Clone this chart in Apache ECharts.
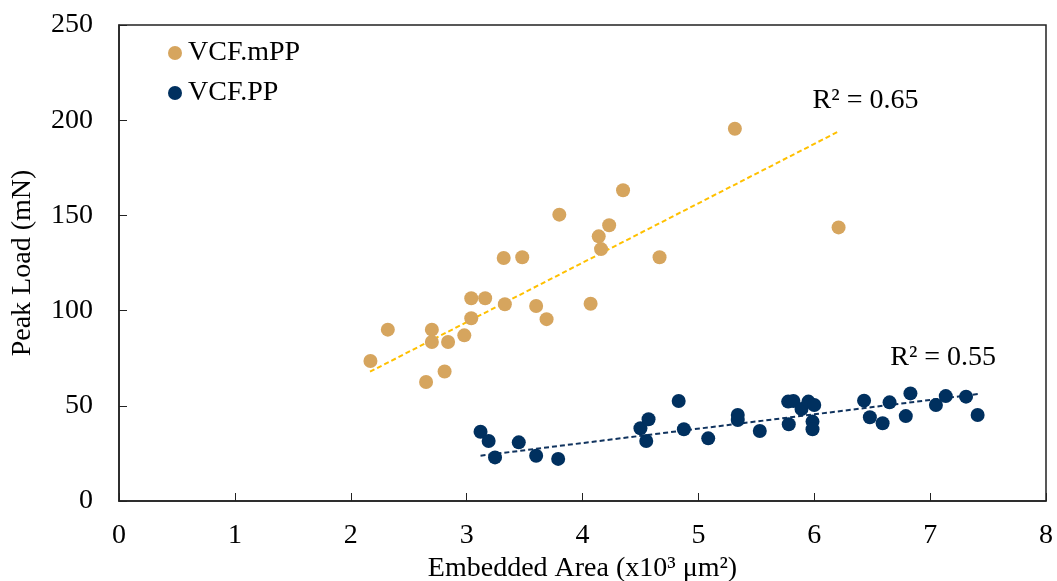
<!DOCTYPE html>
<html><head><meta charset="utf-8">
<script src="https://cdn.jsdelivr.net/npm/echarts@6/dist/echarts.min.js"></script>
<style>html,body{margin:0;padding:0;background:#fff}#c{width:1057px;height:581px}</style>
</head><body><div id="c"></div>
<script>
// Data (x: embedded area x10^3 µm², y: peak load mN)
const mppX = [2.17,2.32,2.65,2.70,2.70,2.81,2.84,2.98,3.04,3.04,3.16,3.33,3.32,3.48,3.60,3.69,3.80,4.07,4.14,4.16,4.23,4.35,4.665,5.315,6.21];
const mppY = [73.5,90,62.5,90,83.5,68,83.5,87,106.5,96,106.5,103.3,127.6,128,102.4,95.5,150.4,103.6,139,132.3,144.8,163.2,128,195.5,143.7];
const ppX = [3.12,3.19,3.245,3.45,3.60,3.79,4.50,4.57,4.55,4.83,4.875,5.085,5.34,5.34,5.53,5.775,5.82,5.78,5.89,5.95,6.00,5.985,5.985,6.43,6.48,6.59,6.65,6.79,6.83,7.05,7.135,7.31,7.41];
const ppY = [36.4,31.5,22.9,30.8,23.8,22.1,38.2,42.9,31.5,52.5,37.7,32.9,45.2,42.5,36.8,52.2,52.5,40.3,48.3,52.2,50.4,41.7,37.7,52.7,44,40.8,51.8,44.6,56.5,50.4,55.1,54.8,45.2];
// Trendline end points
const mppTrendX = [2.166, 6.21];
const mppTrendY = [67.9, 194.1];
const ppTrendX = [3.12, 7.415];
const ppTrendY = [23.8, 56.2];
const seriesNames = ['VCF.mPP','VCF.PP'];
const r2Labels = ['R² = 0.65','R² = 0.55'];

function zip(xs, ys){ return xs.map((x,i)=>[x, ys[i]]); }
const FONT = 'Liberation Serif';
const chart = echarts.init(document.getElementById('c'));
chart.setOption({
  animation:false,
  textStyle:{fontFamily:FONT},
  grid:{left:119, right:11, top:25, bottom:80, show:true, borderColor:'#222', borderWidth:1.5,
        containLabel:false, outerBoundsMode:'none'},
  legend:{
    left:163, top:34, orient:'vertical', itemGap:12, itemWidth:14, itemHeight:14,
    data:[{name:seriesNames[0], icon:'circle'},{name:seriesNames[1], icon:'circle'}],
    textStyle:{fontFamily:FONT, fontSize:28, color:'#000', padding:[0,0,0,1]}
  },
  xAxis:{
    type:'value', min:0, max:8, interval:1,
    name:'Embedded Area (x10³ μm²)', nameLocation:'middle', nameGap:34,
    nameTextStyle:{fontFamily:FONT, fontSize:28, color:'#000'},
    axisLine:{lineStyle:{color:'#222', width:1.5}},
    axisTick:{inside:true, length:8, lineStyle:{color:'#222'}},
    axisLabel:{fontFamily:FONT, fontSize:28, color:'#000', margin:21},
    splitLine:{show:false}
  },
  yAxis:{
    type:'value', min:0, max:250, interval:50,
    name:'Peak Load (mN)', nameLocation:'middle', nameGap:82, nameRotate:90,
    nameTextStyle:{fontFamily:FONT, fontSize:28, color:'#000'},
    axisLine:{lineStyle:{color:'#222', width:1.5}},
    axisTick:{inside:true, length:8, lineStyle:{color:'#222'}},
    axisLabel:{fontFamily:FONT, fontSize:28, color:'#000', margin:26},
    splitLine:{show:false}
  },
  series:[
    {name:seriesNames[0], type:'scatter', data:zip(mppX,mppY), symbolSize:14, itemStyle:{color:'#D6A55E', opacity:1}, z:3},
    {name:seriesNames[1], type:'scatter', data:zip(ppX,ppY), symbolSize:14, itemStyle:{color:'#00305F', opacity:1}, z:3},
    {type:'line', data:zip(mppTrendX,mppTrendY), symbol:'none', lineStyle:{color:'#FFC000', width:2, type:[5,3]}, z:2, silent:true,
     endLabel:{show:true, formatter:r2Labels[0], fontFamily:FONT, fontSize:28, color:'#000', offset:[-34,-31]}},
    {type:'line', data:zip(ppTrendX,ppTrendY), symbol:'none', lineStyle:{color:'#10335E', width:2, type:[5,3]}, z:2, silent:true,
     endLabel:{show:true, formatter:r2Labels[1], fontFamily:FONT, fontSize:28, color:'#000', offset:[-96,-36]}}
  ]
});
</script></body></html>
